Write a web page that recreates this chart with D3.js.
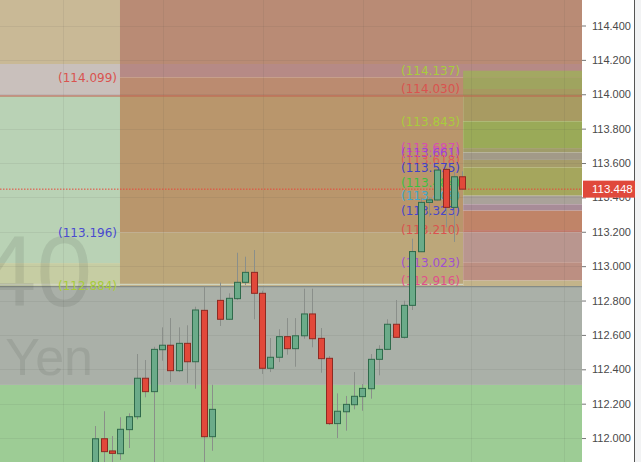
<!DOCTYPE html>
<html lang="en">
<head>
<meta charset="utf-8">
<title>USDJPY 4H</title>
<style>
  body { margin: 0; background: #fff; }
  .axis text { font-family: "Liberation Sans", Arial, sans-serif; font-size: 11px; fill: #4a4a4a; }
  .axis line { stroke: #777; }
  .lvl { font-family: "DejaVu Sans", Verdana, sans-serif; font-size: 12px; }
</style>
</head>
<body>
<svg width="641" height="462"></svg>
<script src="https://d3js.org/d3.v7.min.js"></script>
<script>

// candles
var opens  = [111.814,111.996,111.925,111.909,112.049,112.124,112.348,112.270,112.514,112.540,112.392,112.551,112.444,112.743,112.008,112.801,112.691,112.811,112.906,112.964,112.842,112.406,112.470,112.590,112.520,112.595,112.722,112.580,112.464,112.084,112.153,112.194,112.241,112.287,112.458,112.516,112.662,112.586,112.772,113.084,113.371,113.385,113.563,113.342,113.520];
var highs  = [112.070,112.156,112.012,112.121,112.144,112.489,112.454,112.531,112.644,112.698,112.644,112.656,112.764,112.881,112.310,112.904,112.842,113.078,113.055,113.094,112.857,112.582,112.633,112.698,112.698,112.869,112.869,112.640,112.477,112.260,112.245,112.384,112.314,112.489,112.540,112.691,112.803,112.799,113.160,113.397,113.397,113.563,113.571,113.548,113.552];
var lows   = [111.756,111.814,111.826,111.872,111.942,112.109,112.237,111.785,112.450,112.326,112.384,112.319,112.287,111.785,111.926,112.652,112.687,112.803,112.890,112.691,112.373,112.384,112.442,112.485,112.415,112.578,112.528,112.380,112.076,112.000,112.043,112.167,112.159,112.229,112.365,112.512,112.582,112.578,112.745,113.082,113.288,113.379,113.226,113.141,113.443];
var closes = [111.996,111.921,111.911,112.051,112.124,112.348,112.270,112.516,112.540,112.392,112.551,112.444,112.745,112.008,112.167,112.691,112.813,112.906,112.964,112.842,112.406,112.470,112.590,112.520,112.595,112.722,112.578,112.462,112.084,112.156,112.196,112.243,112.289,112.458,112.516,112.662,112.586,112.772,113.085,113.371,113.385,113.559,113.342,113.520,113.448];

var lastPrice = 113.448;
var priceTicks = [112.0,112.2,112.4,112.6,112.8,113.0,113.2,113.4,113.6,113.8,114.0,114.2,114.4];

// shaded zones: [from bar, to bar, top price, bottom price]
var zones = [
  [-12, 59, 112.309, 111.70],
  [-12, 59, 112.884, 112.309],
  [-12, 2.96, 114.60, 114.176],
  [-12, 2.96, 114.176, 113.99],
  [-12, 2.96, 113.99, 113.018],
  [-12, 2.96, 113.018, 112.884],
  [2.96, 59, 114.60, 114.176],
  [2.96, 59, 114.176, 114.099],
  [2.96, 59, 114.099, 113.99],
  [2.96, 44.1, 113.99, 113.196],
  [2.96, 44.1, 113.196, 112.884],
  [44.1, 59, 114.137, 114.099],
  [44.1, 59, 114.099, 114.030],
  [44.1, 59, 114.030, 113.99],
  [44.1, 59, 113.99, 113.843],
  [44.1, 59, 113.843, 113.687],
  [44.1, 59, 113.687, 113.661],
  [44.1, 59, 113.661, 113.618],
  [44.1, 59, 113.618, 113.575],
  [44.1, 59, 113.575, 113.41],
  [44.1, 59, 113.41, 113.36],
  [44.1, 59, 113.36, 113.323],
  [44.1, 59, 113.323, 113.210],
  [44.1, 59, 113.210, 113.196],
  [44.1, 59, 113.196, 113.023],
  [44.1, 59, 113.023, 112.916],
  [44.1, 59, 112.916, 112.884]
];
var zoneColors = ["#9dcc95","#aab0a8","#c9b996","#c9c0bc","#b9d2b5","#c6cda3",
  "#b98b75","#b68a86","#bb8b70","#b9966c","#bca77a",
  "#a3a862","#9fa45f","#a69a60","#a89b62","#9aaa58","#a09c6a","#a29a88","#a69c6a",
  "#a5a65d","#aaa29a","#a88c98","#c08468","#c07a6a","#b9968f","#bc8f82","#c4b48a"];

var leftLabels  = [114.099, 113.196, 112.884];
var leftColors  = ["#d9534f", "#4a4ad0", "#a8cc3c"];
var rightLabels = [114.137, 114.030, 113.843, 113.687, 113.661, 113.618, 113.575, 113.484, 113.408, 113.323, 113.210, 113.023, 112.916];
var rightColors = ["#a8cc3c","#d9534f","#a8cc3c","#d84fb0","#a040d8","#e05a5a","#4040c8","#3cc040","#40a8c8","#4848c8","#d9534f","#a050d0","#e0508c"];

var gridBars = [-3.9, 8.1, 20.1, 32.1, 45.1, 56.2];

var svg = d3.select("svg");
var plotW = 582, H = 462;

var x = d3.scaleLinear().domain([0, 44]).range([95.3, 462.3]);
var y = d3.scaleLinear().domain([114.4, 112.0]).range([25.5, 438.06]);

svg.append("defs").append("clipPath").attr("id", "plot")
  .append("rect").attr("width", plotW).attr("height", H);

var plot = svg.append("g").attr("clip-path", "url(#plot)");

plot.selectAll("rect.zone")
  .data(zones)
  .enter().append("rect")
    .attr("class", "zone")
    .attr("x", function(d) { return x(d[0]); })
    .attr("width", function(d) { return x(d[1]) - x(d[0]); })
    .attr("y", function(d) { return y(d[2]); })
    .attr("height", function(d) { return y(d[3]) - y(d[2]); })
    .attr("fill", function(d, i) { return zoneColors[i]; });

// grid
plot.selectAll("line.hg")
  .data(priceTicks)
  .enter().append("line")
    .attr("x1", 0).attr("x2", plotW)
    .attr("y1", function(d) { return Math.round(y(d)) + 0.5; })
    .attr("y2", function(d) { return Math.round(y(d)) + 0.5; })
    .attr("stroke", "rgba(60,60,60,0.08)");
plot.selectAll("line.vg")
  .data(gridBars)
  .enter().append("line")
    .attr("x1", function(d) { return Math.round(x(d)) + 0.5; })
    .attr("x2", function(d) { return Math.round(x(d)) + 0.5; })
    .attr("y1", 0).attr("y2", H)
    .attr("stroke", "rgba(60,60,60,0.08)");

// level lines
plot.append("line")
  .attr("x1", 0).attr("x2", x(44.1))
  .attr("y1", y(112.884) - 1.5).attr("y2", y(112.884) - 1.5)
  .attr("stroke", "#cfd4bf").attr("stroke-width", 1.5);
plot.append("line")
  .attr("x1", 0).attr("x2", plotW)
  .attr("y1", y(112.884) + 0.5).attr("y2", y(112.884) + 0.5)
  .attr("stroke", "#858b86").attr("stroke-width", 1.2);
plot.append("line")
  .attr("x1", 0).attr("x2", plotW)
  .attr("y1", y(113.99)).attr("y2", y(113.99))
  .attr("stroke", "#c0604c").attr("stroke-width", 1.2);

// watermark
plot.append("text")
  .attr("x", 92).attr("y", 306)
  .attr("text-anchor", "end")
  .style("font-family", "Liberation Sans, Arial, sans-serif")
  .style("font-size", "100px")
  .attr("fill", "rgba(70,80,70,0.13)")
  .text("40");
plot.append("text")
  .attr("x", 93).attr("y", 375)
  .attr("text-anchor", "end")
  .style("font-family", "Liberation Sans, Arial, sans-serif")
  .style("font-size", "52px")
  .attr("fill", "rgba(70,80,70,0.13)")
  .text("Yen");

// level labels
plot.selectAll("text.ll")
  .data(leftLabels)
  .enter().append("text")
    .attr("class", "lvl")
    .attr("x", 117).attr("y", function(d) { return y(d); })
    .attr("dy", "0.36em")
    .attr("text-anchor", "end")
    .attr("fill", function(d, i) { return leftColors[i]; })
    .text(function(d) { return "(" + d.toFixed(3) + ")"; });
plot.selectAll("text.rl")
  .data(rightLabels)
  .enter().append("text")
    .attr("class", "lvl")
    .attr("x", 460).attr("y", function(d) { return y(d); })
    .attr("dy", "0.36em")
    .attr("text-anchor", "end")
    .attr("fill", function(d, i) { return rightColors[i]; })
    .text(function(d) { return "(" + d.toFixed(3) + ")"; });

// current price line
plot.append("line")
  .attr("x1", 0).attr("x2", plotW)
  .attr("y1", y(lastPrice)).attr("y2", y(lastPrice))
  .attr("stroke", "#e8473a").attr("stroke-dasharray", "1.5,1.5");

// candles
var idx = d3.range(opens.length);
plot.selectAll("line.wick")
  .data(idx)
  .enter().append("line")
    .attr("x1", function(i) { return Math.round(x(i)) + 0.5; })
    .attr("x2", function(i) { return Math.round(x(i)) + 0.5; })
    .attr("y1", function(i) { return y(highs[i]); })
    .attr("y2", function(i) { return y(lows[i]); })
    .attr("stroke", "#8a8f8a");
plot.selectAll("rect.body")
  .data(idx)
  .enter().append("rect")
    .attr("x", function(i) { return Math.round(x(i)) - 2.5; })
    .attr("width", 6)
    .attr("y", function(i) { return y(Math.max(opens[i], closes[i])); })
    .attr("height", function(i) { return Math.max(1, Math.abs(y(opens[i]) - y(closes[i]))); })
    .attr("fill", function(i) { return closes[i] >= opens[i] ? "#6bab89" : "#e2483a"; })
    .attr("stroke", function(i) { return closes[i] >= opens[i] ? "#2f6a4b" : "#8e2a22"; })
    .attr("stroke-width", 1);

// price axis
svg.append("rect").attr("x", plotW).attr("width", 52).attr("height", H).attr("fill", "#fff");
svg.append("rect").attr("x", 635).attr("width", 6).attr("height", H).attr("fill", "#f2f3f4");
var axis = svg.append("g")
  .attr("class", "axis")
  .attr("transform", "translate(" + plotW + ",0)")
  .call(d3.axisRight(y).tickValues(priceTicks).tickFormat(d3.format(".3f")).tickSize(4).tickPadding(6));
axis.select(".domain").remove();
svg.append("line")
  .attr("x1", 634.5).attr("x2", 634.5).attr("y1", 0).attr("y2", H)
  .attr("stroke", "#555");

var tag = svg.append("g").attr("transform", "translate(" + plotW + "," + y(lastPrice) + ")");
tag.append("rect").attr("x", 1).attr("y", -8.5).attr("width", 52).attr("height", 17).attr("fill", "#e0493b");
tag.append("text")
  .attr("x", 10).attr("dy", "0.35em")
  .style("font-family", "Liberation Sans, Arial, sans-serif")
  .style("font-size", "11.5px")
  .attr("fill", "#fff")
  .text(lastPrice.toFixed(3));

</script>
</body>
</html>
